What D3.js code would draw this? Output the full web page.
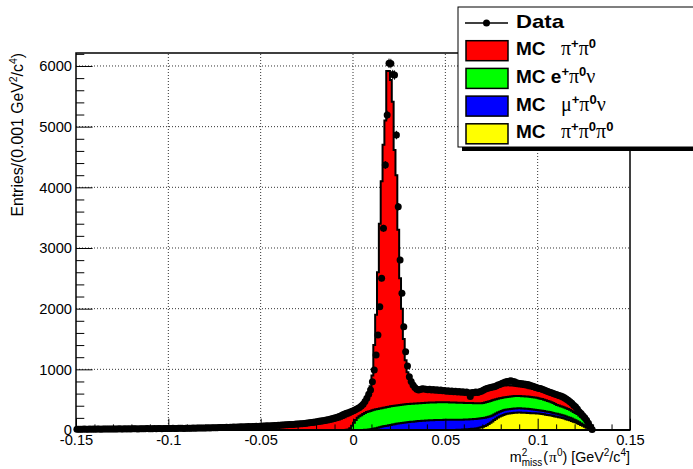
<!DOCTYPE html>
<html lang="en">
<head>
<meta charset="UTF-8">
<title>m2 miss pi0</title>
<script src="https://cdn.jsdelivr.net/npm/d3@7"></script>
<style>
  html, body { margin: 0; padding: 0; background: #fff; }
  svg { display: block; font-family: "Liberation Sans", Arial, Helvetica, sans-serif; }
</style>
</head>
<body>
<div id="chart"></div>
<script>
// binning: 0.001 GeV^2/c^4 from -0.15 to 0.15
var xLo = -0.15, binW = 0.001, nBins = 300;

// data, bins 0..279
var dataCounts = [
  12, 14, 11, 13, 15, 12, 14, 16, 13, 15,
  14, 16, 15, 13, 17, 15, 16, 18, 15, 17,
  16, 18, 17, 19, 16, 18, 20, 17, 19, 18,
  20, 19, 21, 18, 22, 20, 19, 21, 23, 20,
  22, 21, 24, 22, 23, 25, 22, 24, 26, 23,
  25, 24, 27, 25, 26, 28, 27, 29, 26, 30,
  28, 30, 29, 32, 30, 33, 31, 34, 32, 35,
  34, 36, 35, 38, 36, 39, 38, 41, 40, 42,
  41, 44, 43, 46, 45, 48, 47, 50, 49, 52,
  51, 54, 53, 56, 55, 58, 57, 60, 59, 62,
  62, 65, 64, 68, 67, 71, 70, 74, 76, 78,
  80, 82, 81, 85, 87, 89, 92, 91, 95, 98,
  100, 104, 103, 108, 112, 115, 119, 124, 128, 133,
  138, 144, 149, 153, 158, 165, 171, 178, 185, 192,
  200, 210, 222, 236, 250,
  262, 275, 285, 298, 310, 322, 338, 356, 372, 395, 425, 470, 522, 590, 660,
  796, 989, 1236, 1566, 2033, 2500, 3324, 4368, 5192, 6044,
  6040, 5860, 5851, 4862, 3681, 2802, 2253, 1703, 1291, 1055, 879, 800, 742,
  700, 672, 660, 668, 680, 675, 670,
  665, 672, 660, 668, 655, 662, 650, 658, 645, 652,
  640, 648, 635, 642, 630, 638, 628, 635, 622, 630,
  620, 628, 615, 552, 620, 612, 625, 618, 630, 640,
  655, 670, 685, 692, 700, 710, 714, 725, 740, 752,
  765, 778, 790, 800, 805, 810, 800, 795, 780, 770,
  765, 762, 758, 755, 748, 741, 730, 720, 708, 698,
  690, 682, 672, 660, 648, 636, 624, 612, 600, 590,
  580, 570, 560, 548, 530, 512, 490, 465, 440, 410,
  384, 345, 302, 270, 235, 200, 160, 110, 55, 10
];

// MC pi+ pi0, bins 0..279
var mcPiPi0Start = 0;
var mcPiPi0 = [
  12, 12, 13, 13, 13, 14, 14, 14, 15, 15,
  15, 15, 16, 16, 16, 16, 17, 17, 17, 17,
  18, 18, 18, 19, 19, 19, 19, 20, 20, 20,
  20, 21, 21, 21, 21, 22, 22, 22, 22, 23,
  23, 23, 23, 24, 24, 24, 25, 25, 25, 26,
  26, 26, 27, 27, 28, 28, 28, 29, 29, 30,
  30, 31, 31, 32, 32, 33, 33, 34, 35, 35,
  36, 37, 37, 38, 39, 40, 40, 41, 42, 43,
  40, 41, 41, 42, 43, 44, 44, 45, 46, 47,
  47, 48, 48, 49, 49, 50, 50, 51, 51, 52,
  52, 53, 54, 55, 56, 57, 58, 59, 60, 61,
  62, 63, 64, 65, 66, 66, 67, 68, 69, 69,
  70, 72, 74, 76, 79, 82, 85, 88, 91, 95,
  99, 103, 107, 112, 117, 122, 128, 134, 141, 148,
  156, 165, 175, 186,
  198, 211, 222, 230, 226, 203, 170, 145, 135, 140, 155, 178, 210, 255, 315, 405,
  575, 1067, 1560, 2253, 3046, 3740, 4334, 4728, 5539, 5533, 5380, 5016,
  4215, 3795, 2890, 2086, 1582, 1079, 726, 523, 410, 368, 336, 294,
  272, 255, 243, 234, 226, 220, 215, 210, 207, 204, 201, 199, 198, 196, 195, 194,
  193, 193, 193, 193, 193, 193, 193, 193, 193, 193, 193, 194, 195, 196, 198, 200, 203, 207, 211, 214,
  216, 217, 216, 214, 212, 210, 208, 207, 206, 204, 202, 199, 195, 191, 186, 181, 176, 171, 167, 163,
  160, 156, 153, 149, 146, 142, 139, 136, 133, 130, 128, 126, 125, 125, 125, 125, 126, 127, 129, 132,
  137, 134, 130, 125, 120, 114, 108, 105, 101, 98, 93, 86, 80, 75, 67, 55, 40, 25, 10, 3
];

// MC e+ pi0 nu, bins 146..279
var mcEPi0NuStart = 146;
var mcEPi0Nu = [
  3, 10, 30, 70,
  120, 165, 200, 225, 245, 262,
  277, 289, 295, 301,
  307, 309, 310, 309, 309, 308, 306, 306, 306, 306,
  306, 305, 304, 304, 304, 303, 302, 301, 300, 299,
  298, 297, 296, 295, 294, 293, 292, 292, 292, 292,
  292, 292, 292, 292, 292, 292, 291, 291, 291, 290,
  290, 288, 287, 286, 284, 283, 282, 281, 280, 278,
  275, 273, 270, 268, 264, 261, 258, 254, 252, 249,
  249, 250, 250, 252, 252, 250, 245, 238, 228, 220,
  214, 210, 208, 206, 206, 206, 206, 205, 204, 203,
  202, 202, 202, 202, 202, 202, 202, 202, 200, 199,
  197, 195, 192, 188, 184, 180, 174, 169, 164, 155,
  145, 143, 141, 140, 138, 137, 136, 132, 128, 124,
  120, 119, 114, 106, 96, 86, 75, 56, 32, 7
];

// MC mu+ pi0 nu, bins 156..279
var mcMuPi0NuStart = 156;
var mcMuPi0Nu = [
  3, 6, 10, 14,
  18, 24, 30, 38, 45, 52, 60, 66, 72, 78,
  84, 90, 96, 101, 106, 111, 116, 120, 124, 128,
  132, 135, 138, 141, 144, 147, 150, 152, 154, 156,
  158, 160, 161, 162, 163, 164, 165, 166, 166, 167,
  167, 168, 168, 168, 169, 167, 166, 164, 163, 162,
  162, 161, 161, 160, 160, 159, 158, 156, 152, 148,
  142, 136, 130, 120, 110, 100, 90, 85, 82, 80,
  78, 76, 74, 73, 72, 71, 70, 70, 70, 70,
  70, 70, 69, 68, 67, 66, 64, 62, 60, 58,
  57, 56, 55, 54, 53, 52, 52, 51, 50, 50,
  49, 48, 47, 46, 45, 44, 42, 40, 38, 36,
  34, 31, 28, 25, 22, 19, 15, 10, 6, 2
];

// MC pi+ pi0 pi0, bins 205..279
var mcPiPi0Pi0Start = 205;
var mcPiPi0Pi0 = [
  2, 3, 5, 6, 8,
  10, 12, 14, 16, 19, 22, 25, 30, 36, 45,
  55, 66, 80, 98, 118, 140, 165, 185, 205, 222,
  236, 248, 258, 266, 272, 277, 281, 284, 286, 287,
  287, 286, 285, 284, 282, 280, 278, 276, 275, 273,
  270, 266, 262, 258, 253, 248, 243, 237, 230, 224,
  218, 211, 204, 196, 188, 179, 170, 160, 150, 138,
  126, 112, 98, 84, 70, 55, 38, 24, 12, 3
];

var xTicks = [-0.15, -0.1, -0.05, 0, 0.05, 0.1, 0.15];
var xTickLabels = ["-0.15", "-0.1", "-0.05", "0", "0.05", "0.1", "0.15"];
var yTicks = [0, 1000, 2000, 3000, 4000, 5000, 6000];
var yTickLabels = ["0", "1000", "2000", "3000", "4000", "5000", "6000"];

var W = 693, H = 469;
var svg = d3.select("#chart").append("svg").attr("width", W).attr("height", H);
svg.append("rect").attr("width", W).attr("height", H).attr("fill", "#fff");

var x = d3.scaleLinear().domain([-0.15, 0.15]).range([76, 630]);
var y = d3.scaleLinear().domain([0, 6214]).range([430, 53]);

function fullBins(vals, start) {
  var a = new Array(nBins).fill(0);
  vals.forEach(function (v, i) { a[start + i] = v; });
  return a;
}
var hData = fullBins(dataCounts, 0);
var hRed = fullBins(mcPiPi0, mcPiPi0Start);
var hGreen = fullBins(mcEPi0Nu, mcEPi0NuStart);
var hBlue = fullBins(mcMuPi0Nu, mcMuPi0NuStart);
var hYellow = fullBins(mcPiPi0Pi0, mcPiPi0Pi0Start);

// stacked (cumulative) histograms, like THStack
var cumYellow = hYellow.slice();
var cumBlue = cumYellow.map(function (v, i) { return v + hBlue[i]; });
var cumGreen = cumBlue.map(function (v, i) { return v + hGreen[i]; });
var cumRed = cumGreen.map(function (v, i) { return v + hRed[i]; });

// grid (dotted)
var grid = svg.append("g").attr("stroke", "#333").attr("stroke-width", 1).attr("stroke-dasharray", "1,2");
xTicks.slice(1, -1).forEach(function (t) {
  grid.append("line").attr("x1", x(t)).attr("x2", x(t)).attr("y1", y.range()[0]).attr("y2", 53);
});
yTicks.slice(1).forEach(function (t) {
  grid.append("line").attr("x1", 76).attr("x2", 630).attr("y1", y(t)).attr("y2", y(t));
});

// histograms
var edgeIdx = d3.range(nBins + 1);
function stepArea(h) {
  return d3.area()
    .curve(d3.curveStepAfter)
    .x(function (i) { return x(xLo + i * binW); })
    .y0(y(0))
    .y1(function (i) { return y(h[Math.min(i, nBins - 1)]); })(edgeIdx);
}
var stack = [
  [cumRed, "#ff0000"],
  [cumGreen, "#00ff00"],
  [cumBlue, "#0000ff"],
  [cumYellow, "#ffff00"]
];
stack.forEach(function (s) {
  svg.append("path").attr("d", stepArea(s[0]))
    .attr("fill", s[1]).attr("stroke", "#000").attr("stroke-width", 2)
    .attr("stroke-linejoin", "miter");
});

// data points with errors
var pts = d3.range(nBins).filter(function (i) { return hData[i] > 0; });
var gData = svg.append("g");
gData.selectAll("line").data(pts).enter().append("line")
  .attr("x1", function (i) { return x(xLo + (i + 0.5) * binW); })
  .attr("x2", function (i) { return x(xLo + (i + 0.5) * binW); })
  .attr("y1", function (i) { return y(hData[i] + Math.sqrt(hData[i])); })
  .attr("y2", function (i) { return y(hData[i] - Math.sqrt(hData[i])); })
  .attr("stroke", "#000").attr("stroke-width", 1);
gData.selectAll("circle").data(pts).enter().append("circle")
  .attr("cx", function (i) { return x(xLo + (i + 0.5) * binW); })
  .attr("cy", function (i) { return y(hData[i]); })
  .attr("r", 3.5).attr("fill", "#000");

// axes (ticks inside, drawn over histograms)
var minorX = d3.range(-15, 16).map(function (i) { return i / 100; })
  .filter(function (v) { return Math.abs(Math.round(v * 100) % 5) !== 0; });
var minorY = d3.range(0, 6201, 200).filter(function (v) { return v % 1000 !== 0; });

function styleAxis(g) {
  g.select(".domain").remove();
  g.selectAll("line").attr("stroke", "#000").attr("stroke-width", 1);
  g.selectAll("text").attr("font-size", "14.7px").attr("fill", "#000")
    .attr("font-family", "'Liberation Sans', Arial, Helvetica, sans-serif");
}
svg.append("g").attr("transform", "translate(0,430)")
  .call(d3.axisBottom(x).tickValues(xTicks).tickSize(-11.3).tickPadding(5)
    .tickFormat(function (d, i) { return xTickLabels[i]; }))
  .call(styleAxis);
svg.append("g").attr("transform", "translate(0,430)")
  .call(d3.axisBottom(x).tickValues(minorX).tickSize(-5.6).tickFormat(""))
  .call(styleAxis);
svg.append("g").attr("transform", "translate(76,0)")
  .call(d3.axisLeft(y).tickValues(yTicks).tickSize(-16.6).tickPadding(4)
    .tickFormat(function (d, i) { return yTickLabels[i]; }))
  .call(styleAxis);
svg.append("g").attr("transform", "translate(76,0)")
  .call(d3.axisLeft(y).tickValues(minorY).tickSize(-8.3).tickFormat(""))
  .call(styleAxis);

// frame
svg.append("rect").attr("x", 76).attr("y", 53).attr("width", 554).attr("height", 377)
  .attr("fill", "none").attr("stroke", "#000").attr("stroke-width", 1.5);

// axis titles
var serif = "'Liberation Serif', 'DejaVu Serif', serif";
var xt = svg.append("text").attr("x", 630).attr("y", 461.5).attr("text-anchor", "end")
  .attr("font-size", "14.3px").attr("fill", "#000");
xt.append("tspan").text("m");
xt.append("tspan").attr("font-size", "10px").attr("dy", -5.5).text("2");
xt.append("tspan").attr("font-size", "10px").attr("dx", -5.6).attr("dy", 10).text("miss");
xt.append("tspan").attr("dy", -4.5).attr("dx", 1).text("(");
xt.append("tspan").attr("font-family", serif).attr("font-size", "15.5px").attr("dx", 1).text("π");
xt.append("tspan").attr("font-size", "10px").attr("dy", -5.5).text("0");
xt.append("tspan").attr("dy", 5.5).text(") [GeV");
xt.append("tspan").attr("font-size", "10px").attr("dy", -5.5).text("2");
xt.append("tspan").attr("dy", 5.5).text("/c");
xt.append("tspan").attr("font-size", "10px").attr("dy", -5.5).text("4");
xt.append("tspan").attr("dy", 5.5).text("]");

var yt = svg.append("text").attr("transform", "translate(23,53) rotate(-90)")
  .attr("text-anchor", "end").attr("font-size", "15.8px").attr("fill", "#000");
yt.append("tspan").text("Entries/(0.001 GeV");
yt.append("tspan").attr("font-size", "10.5px").attr("dy", -6).text("2");
yt.append("tspan").attr("dy", 6).text("/c");
yt.append("tspan").attr("font-size", "10.5px").attr("dy", -6).text("4");
yt.append("tspan").attr("dy", 6).text(")");

// legend
var legendRows = [
  { kind: "data", parts: [["Data", "b"]] },
  { kind: "fill", color: "#ff0000", parts: [["MC", "b"], ["π", "g", 561], ["+", "s"], ["π", "g"], ["0", "s"]] },
  { kind: "fill", color: "#00ff00", parts: [["MC e", "b"], ["+", "s"], ["π", "g"], ["0", "s"], ["ν", "g"]] },
  { kind: "fill", color: "#0000ff", parts: [["MC", "b"], ["μ", "g", 561], ["+", "s"], ["π", "g"], ["0", "s"], ["ν", "g"]] },
  { kind: "fill", color: "#ffff00", parts: [["MC", "b"], ["π", "g", 561], ["+", "s"], ["π", "g"], ["0", "s"], ["π", "g"], ["0", "s"]] }
];
var leg = svg.append("g");
leg.append("rect").attr("x", 462).attr("y", 11).attr("width", 250).attr("height", 140).attr("fill", "#000");
leg.append("rect").attr("x", 458).attr("y", 7).attr("width", 250).attr("height", 140)
  .attr("fill", "#fff").attr("stroke", "#000").attr("stroke-width", 1);
legendRows.forEach(function (r, i) {
  var cy = 23 + 27.7 * i;
  if (r.kind === "data") {
    leg.append("line").attr("x1", 465).attr("x2", 508).attr("y1", cy).attr("y2", cy)
      .attr("stroke", "#000").attr("stroke-width", 1.5);
    leg.append("circle").attr("cx", 486.5).attr("cy", cy).attr("r", 3.5).attr("fill", "#000");
  } else {
    leg.append("rect").attr("x", 466).attr("y", cy - 10).attr("width", 42).attr("height", 20)
      .attr("fill", r.color).attr("stroke", "#000").attr("stroke-width", 1.5);
  }
  var t = leg.append("text").attr("x", 516).attr("y", cy + 4.5).attr("fill", "#000");
  var up = false;
  r.parts.forEach(function (p) {
    var ts = t.append("tspan").text(p[0]);
    if (p[2] !== undefined) ts.attr("x", p[2]);
    if (p[1] === "b") {
      ts.attr("font-weight", "bold").attr("font-size", "19px");
      if (p[0] === "Data") ts.attr("textLength", 48).attr("lengthAdjust", "spacingAndGlyphs");
    } else if (p[1] === "g") {
      ts.attr("font-family", serif).attr("font-size", "20px");
    } else {
      ts.attr("font-weight", "bold").attr("font-size", "13px");
    }
    if (p[1] === "s" && !up) { ts.attr("dy", -7); up = true; }
    else if (p[1] !== "s" && up) { ts.attr("dy", 7); up = false; }
  });
});
</script>
</body>
</html>
